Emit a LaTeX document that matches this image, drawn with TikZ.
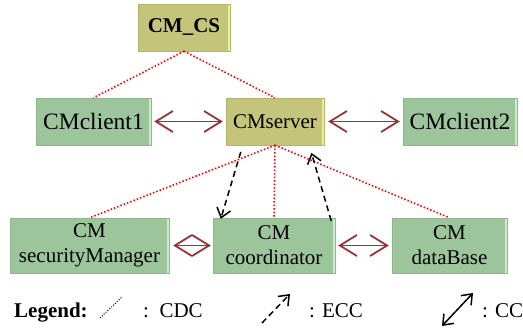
\documentclass[tikz,border=0pt]{standalone}
\usepackage{fontspec}
\setmainfont{Liberation Serif}
\usetikzlibrary{arrows.meta,calc}
\definecolor{boxgreen}{HTML}{9CC59C}
\definecolor{boxgreenlight}{HTML}{C9EEC9}
\definecolor{boxolive}{HTML}{C4C47A}
\definecolor{boxolivelight}{HTML}{EEEE92}
\definecolor{arrowred}{HTML}{993333}
\tikzset{
  basebox/.style={inner sep=0pt, align=center, font=\fontsize{21}{25}\selectfont},
  greenbox/.style={basebox, fill=boxgreen, draw=boxgreen!92!black, line width=0.4pt,
    path picture={\fill[boxgreenlight] ([xshift=-2.5pt]path picture bounding box.north east) rectangle (path picture bounding box.south east);}},
  olivebox/.style={basebox, fill=boxolive, draw=boxolive!92!black, line width=0.4pt,
    path picture={\fill[boxolivelight] ([xshift=-2.5pt]path picture bounding box.north east) rectangle (path picture bounding box.south east);}},
  cdc/.style={draw=red, line width=1.6pt, dash pattern=on 1.5pt off 2pt},
  cc/.style={draw=arrowred, line width=1.8pt, {Straight Barb[length=17pt,width=21pt]}-{Straight Barb[length=17pt,width=21pt]}},
  ecc/.style={draw=black, line width=1.5pt, dash pattern=on 6pt off 4pt, -{Straight Barb[length=9pt,width=14pt]}},
  legtext/.style={anchor=base west, inner sep=0pt, font=\fontsize{21}{25}\selectfont},
}
\begin{document}
\begin{tikzpicture}[x=1pt,y=-1pt]
\useasboundingbox (0,0) rectangle (523,328);
% nodes
\node[olivebox, minimum width=92pt, minimum height=47pt, font=\fontsize{21}{25}\selectfont\bfseries] (cmcs) at (184,27.5) {CM\_CS};
\node[greenbox, minimum width=115pt, minimum height=47pt, font=\fontsize{23.5}{26}\selectfont] (client1) at (93.5,121.5) {CMclient1};
\node[olivebox, minimum width=98pt, minimum height=47pt] (server) at (275,121.5) {CMserver};
\node[greenbox, minimum width=114pt, minimum height=47pt, font=\fontsize{23.5}{26}\selectfont] (client2) at (460,121.5) {CMclient2};
\node[greenbox, minimum width=159pt, minimum height=55pt] (secmgr) at (89.5,245.5) {CM\\securityManager};
\node[greenbox, minimum width=122pt, minimum height=55pt] (coord) at (274,245.5) {CM\\coordinator};
\node[greenbox, minimum width=115pt, minimum height=55pt] (db) at (449.5,245.5) {CM\\dataBase};
% CDC
\draw[cdc] (cmcs.south) -- (client1.north);
\draw[cdc] (cmcs.south) -- (server.north);
\draw[cdc] (server.south) -- (secmgr.north);
\draw[cdc] (server.south) -- (coord.north);
\draw[cdc] (server.south) -- (db.north);
% CC
\draw[cc, shorten <=3pt, shorten >=3pt] (client1.east) -- (server.west);
\draw[cc, shorten <=4pt, shorten >=3pt] (server.east) -- (client2.west);
\draw[cc, shorten <=4pt, shorten >=2pt] (secmgr.east) -- (coord.west);
\draw[cc, shorten <=3pt, shorten >=3pt] (coord.east) -- (db.west);
% ECC
\draw[ecc, shorten <=7pt] ([xshift=17pt]server.south west) -- ([xshift=8pt,yshift=-1pt]coord.north west);
\draw[ecc, shorten >=8pt] ([xshift=-4pt,yshift=-3pt]coord.north east) -- ([xshift=-15pt]server.south east);
% legend
\node[legtext, font=\fontsize{21}{25}\selectfont\bfseries] (legend) at (14,318) {Legend:};
\coordinate (l1a) at (100,318);
\coordinate (l1b) at (122,297);
\draw[black, line width=1pt, dash pattern=on 1pt off 1.6pt] (l1a) -- (l1b);
\node[legtext] (cdctext) at (143,318) {:\ \ CDC};
\coordinate (l2a) at (262,323);
\coordinate (l2b) at (290,294);
\draw[black, line width=1.5pt, dash pattern=on 6pt off 4pt, -{Straight Barb[length=9pt,width=14pt]}] (l2a) -- (l2b);
\node[legtext] (ecctext) at (309,318) {: ECC};
\coordinate (l3a) at (442,326);
\coordinate (l3b) at (473,293);
\draw[black, line width=1.5pt, {Straight Barb[length=9pt,width=14pt]}-{Straight Barb[length=9pt,width=14pt]}] (l3a) -- (l3b);
\node[legtext] (cctext) at (482,318) {: CC};
\end{tikzpicture}
\end{document}
